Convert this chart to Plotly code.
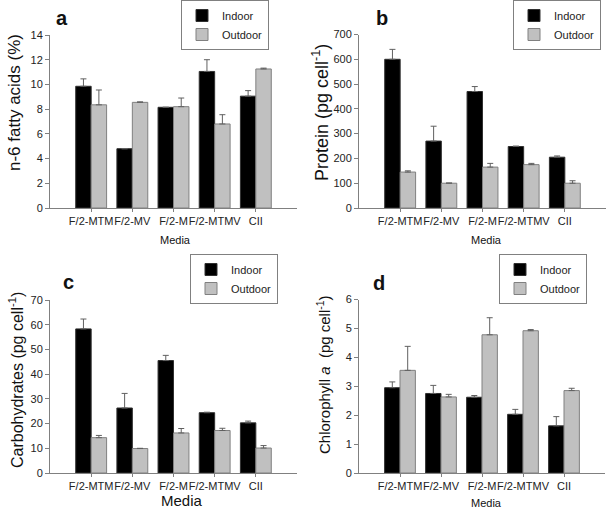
import plotly.graph_objects as go

media = ["F/2-MTM", "F/2-MV", "F/2-M", "F/2-MTMV", "CII"]

fatty_indoor = [9.85, 4.8, 8.15, 11.05, 9.05]
fatty_indoor_err = [0.6, 0.0, 0.0, 0.95, 0.45]
fatty_outdoor = [8.35, 8.55, 8.2, 6.8, 11.25]
fatty_outdoor_err = [1.2, 0.04, 0.7, 0.75, 0.07]

protein_indoor = [600, 270, 470, 248, 205]
protein_indoor_err = [40, 60, 20, 2, 5]
protein_outdoor = [145, 100, 165, 175, 100]
protein_outdoor_err = [5, 1, 15, 5, 10]

carb_indoor = [58.3, 26.3, 45.5, 24.4, 20.3]
carb_indoor_err = [4.0, 5.9, 2.1, 0.2, 0.7]
carb_outdoor = [14.3, 9.9, 16.2, 17.2, 10.1]
carb_outdoor_err = [0.9, 0.1, 1.8, 0.9, 1.0]

chl_indoor = [2.95, 2.75, 2.62, 2.03, 1.63]
chl_indoor_err = [0.2, 0.28, 0.06, 0.17, 0.32]
chl_outdoor = [3.55, 2.63, 4.78, 4.92, 2.85]
chl_outdoor_err = [0.83, 0.09, 0.59, 0.04, 0.08]

W, H = 608, 511
FONT = "Arial, Liberation Sans, sans-serif"

panels = [
    dict(key="", ind=fatty_indoor, ie=fatty_indoor_err, out=fatty_outdoor, oe=fatty_outdoor_err,
         xpx=(50, 297), ypx=(35, 208), yr=(0, 14), dt=2),
    dict(key="2", ind=protein_indoor, ie=protein_indoor_err, out=protein_outdoor, oe=protein_outdoor_err,
         xpx=(359, 606), ypx=(34.5, 208), yr=(0, 700), dt=100),
    dict(key="3", ind=carb_indoor, ie=carb_indoor_err, out=carb_outdoor, oe=carb_outdoor_err,
         xpx=(50, 297), ypx=(300, 473), yr=(0, 70), dt=10),
    dict(key="4", ind=chl_indoor, ie=chl_indoor_err, out=chl_outdoor, oe=chl_outdoor_err,
         xpx=(359, 605), ypx=(299.5, 473), yr=(0, 6), dt=1),
]

fig = go.Figure()
layout = dict(width=W, height=H, margin=dict(l=0, r=0, t=0, b=0, autoexpand=False),
              template="none",
              paper_bgcolor="white", plot_bgcolor="white",
              barmode="group", bargap=0.25, bargroupgap=0.0,
              font=dict(family=FONT, size=11, color="#222"))

legend_pos = [(181, 0), (513, 0), (190, 254), (499, 254)]

for i, p in enumerate(panels):
    k = p["key"]
    lg = "legend" + k
    for name, vals, err, col, lc in [("Indoor", p["ind"], p["ie"], "black", "#303030"),
                                      ("Outdoor", p["out"], p["oe"], "#c0c0c0", "#808080")]:
        fig.add_trace(go.Bar(
            x=media, y=vals, name=name, xaxis="x" + k, yaxis="y" + k,
            marker=dict(color=col, line=dict(color=lc, width=1)),
            error_y=dict(type="data", symmetric=False, array=err, arrayminus=[0] * len(err),
                         color="#606060", thickness=1, width=3),
            legend=lg, showlegend=True,
        ))
    x0, x1 = p["xpx"]
    y0, y1 = p["ypx"]
    layout["xaxis" + k] = dict(domain=[x0 / W, x1 / W], anchor="y" + k, type="category",
                               range=[-1, 5], showline=True, linecolor="#808080", linewidth=1,
                               ticks="outside", ticklen=3, tickcolor="#808080", tickangle=0,
                               showgrid=False, zeroline=False, automargin=False,
                               tickfont=dict(size=11, color="#222"))
    layout["yaxis" + k] = dict(domain=[(H - y1) / H, (H - y0) / H], anchor="x" + k,
                               range=list(p["yr"]), dtick=p["dt"], showline=True,
                               linecolor="#808080", linewidth=1, ticks="outside", ticklen=4,
                               tickcolor="#808080", showgrid=False, zeroline=False,
                               automargin=False,
                               tickfont=dict(size=11, color="#222"))
    lx, ly = legend_pos[i]
    layout[lg] = dict(x=lx / W, y=(H - ly) / H, xanchor="left", yanchor="top",
                      bgcolor="white", bordercolor="#808080", borderwidth=1,
                      font=dict(size=11, color="#222"), tracegroupgap=0, itemwidth=30)

ann = []
def a(text, x, y, size, angle=0, bold=False):
    ann.append(dict(text=("<b>%s</b>" % text) if bold else text, x=x / W, y=(H - y) / H,
                    xref="paper", yref="paper", showarrow=False, textangle=angle,
                    xanchor="center", yanchor="middle",
                    font=dict(size=size, family=FONT, color="#111")))

a("n-6 fatty acids (%)", 14, 103, 17, -90)
a("Protein (pg cell<sup>-1</sup>)", 320, 113, 18, -90)
a("Carbohydrates (pg cell<sup>-1</sup>)", 16, 380, 16, -90)
a("Chlorophyll <i>a</i>  (pg cell<sup>-1</sup>)", 323, 375, 15, -90)
a("Media", 175, 240, 11)
a("Media", 486, 240, 11)
a("Media", 182, 500, 15)
a("Media", 486, 503, 11)
a("a", 62, 18, 20, bold=True)
a("b", 382, 18, 20, bold=True)
a("c", 68, 282, 20, bold=True)
a("d", 379, 283, 20, bold=True)
layout["annotations"] = ann

fig.update_layout(**layout)
fig.write_html("out.html", config={"displayModeBar": False},
               post_script="document.body.style.margin='0';")
